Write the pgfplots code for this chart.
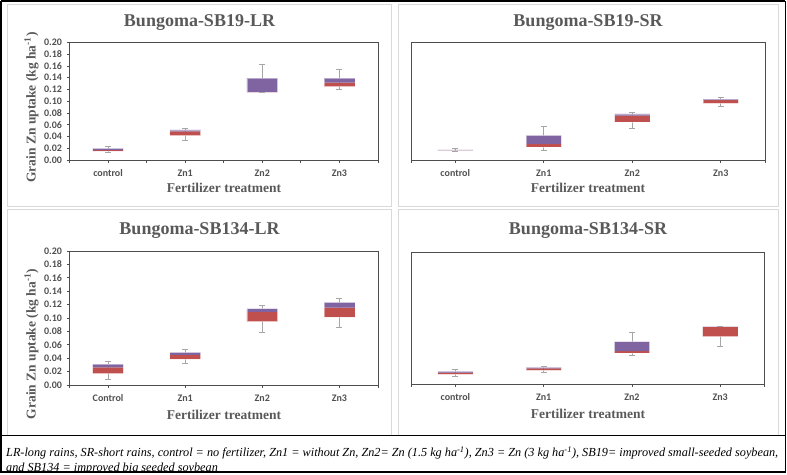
\documentclass[border=0pt]{standalone}
\usepackage{pgfplots}
\pgfplotsset{compat=1.18}
\usepackage{graphicx}
\usepackage{fontspec}
\setmainfont{Liberation Serif}
\newfontfamily\calib{Carlito}

\definecolor{zred}{HTML}{C0504D}
\definecolor{zpurple}{HTML}{8064A2}
\definecolor{whisk}{HTML}{A6A6A6}
\definecolor{axisgray}{HTML}{4D4D4D}
\definecolor{tickgray}{HTML}{505050}
\definecolor{titlegray}{HTML}{595959}
\definecolor{framegray}{HTML}{D9D9D9}

\newcommand\titlefont{\fontsize{18bp}{20bp}\selectfont\bfseries}
\newcommand\labfont{\fontsize{13.5bp}{15bp}\selectfont\bfseries}
\newcommand\capfont{\fontsize{12.3bp}{14bp}\selectfont\itshape}
\newcommand\capone{LR-long rains, SR-short rains, control = no fertilizer, Zn1 = without Zn, Zn2= Zn (1.5 kg ha\textsuperscript{-1}), Zn3 = Zn (3 kg ha\textsuperscript{-1}), SB19= improved small-seeded soybean,}
\newcommand\captwo{and SB134 = improved big seeded soybean}
\newlength\capw

% one box: left edge, centre, right edge, lower whisker, Q1, median, Q3, upper whisker
% whisker line with caps, then Q1-median (red) and median-Q3 (purple) on top
\newcommand\zbox[8]{%
  \addplot[draw=whisk, line width=0.8bp, mark=-, mark size=3bp,
    mark options={solid, draw=whisk, line width=0.8bp}]
    coordinates {(#2,#4) (#2,#8)};
  \addplot[draw=none, fill=zred, mark=none]
    coordinates {(#1,#5) (#3,#5) (#3,#6) (#1,#6) (#1,#5)};
  \addplot[draw=none, fill=zpurple, mark=none]
    coordinates {(#1,#6) (#3,#6) (#3,#7) (#1,#7) (#1,#6)};
  \addplot[draw=white, draw opacity=0.45, line width=0.6bp, mark=none]
    coordinates {(#1,#5) (#3,#5) (#3,#7) (#1,#7) (#1,#5)};
}

\pgfplotsset{
  zpanel/.style={
    scale only axis,
    anchor=south west,
    xmin=0.5, xmax=4.5, ymin=0, ymax=0.2,
    axis line style={draw=axisgray, line width=1bp},
    tick style={draw=axisgray, line width=0.8bp},
    tick align=outside, major tick length=2.5bp,
    xtick pos=bottom, ytick pos=left,
    xtick={1,2,3,4},
    ticklabel style={font=\calib\bfseries\fontsize{10bp}{12bp}\selectfont, text=tickgray},
    xticklabel style={yshift=-3.5bp},
    yticklabel style={xshift=-1.5bp, /pgf/number format/.cd, fixed, fixed zerofill, precision=2, assume math mode=true},
  },
  zleft/.style={zpanel, ytick={0,0.02,0.04,0.06,0.08,0.10,0.12,0.14,0.16,0.18,0.20}},
  zright/.style={zpanel, ytick=\empty},
}

\begin{document}
\settowidth\capw{\capfont\capone}%
\pgfmathsetmacro\sx{775.0/\capw}%
\begin{tikzpicture}
\useasboundingbox (0,0) rectangle (787bp,-475bp);

% panel frames
\draw[framegray, line width=1bp] (7.3bp,-4bp) rectangle (391.7bp,-206.7bp);
\draw[framegray, line width=1bp] (398bp,-4bp) rectangle (778bp,-206.7bp);
\draw[framegray, line width=1bp] (7.3bp,-209.3bp) rectangle (391.7bp,-435bp);
\draw[framegray, line width=1bp] (398bp,-209.3bp) rectangle (778bp,-435bp);

% Bungoma-SB19-LR
\begin{axis}[zleft, at={(69.5bp,-160bp)}, width=308.5bp, height=117.5bp,
  xticklabels={control,Zn1,Zn2,Zn3},
  extra x ticks={0.5,1.5,2.5,3.5,4.5}, extra x tick labels={}]
  \zbox{0.8}{1}{1.2}{0.0136}{0.0153}{0.0170}{0.0199}{0.0227}
  \zbox{1.8}{2}{2.2}{0.0335}{0.0415}{0.0489}{0.0511}{0.0540}
  \zbox{2.8}{3}{3.2}{0.1148}{0.1153}{0.1156}{0.1392}{0.1630}
  \zbox{3.8}{4}{4.2}{0.1205}{0.1250}{0.1318}{0.1392}{0.1545}
\end{axis}

% Bungoma-SB19-SR
\begin{axis}[zright, at={(411bp,-160.3bp)}, width=354bp, height=117.6bp,
  xticklabels={control,Zn1,Zn2,Zn3},
  extra x ticks={0.5,4.5}, extra x tick labels={}]
  \zbox{0.8}{1}{1.2}{0.0155}{0.0163}{0.0170}{0.0178}{0.0195}
  \zbox{1.8}{2}{2.2}{0.0176}{0.0227}{0.0278}{0.0425}{0.0580}
  \zbox{2.8}{3}{3.2}{0.0544}{0.0652}{0.0759}{0.0788}{0.0816}
  \zbox{3.8}{4}{4.2}{0.0912}{0.0969}{0.1025}{0.1042}{0.1065}
\end{axis}

% Bungoma-SB134-LR
\begin{axis}[zleft, at={(69.5bp,-385bp)}, width=308.5bp, height=134bp,
  xticklabels={Control,Zn1,Zn2,Zn3},
  extra x ticks={0.5,4.5}, extra x tick labels={}]
  \zbox{0.8}{1}{1.2}{0.0080}{0.0169}{0.0264}{0.0313}{0.0358}
  \zbox{1.8}{2}{2.2}{0.0318}{0.0388}{0.0448}{0.0488}{0.0527}
  \zbox{2.8}{3}{3.2}{0.0781}{0.0945}{0.1090}{0.1139}{0.1189}
  \zbox{3.8}{4}{4.2}{0.0856}{0.1015}{0.1154}{0.1234}{0.1289}
\end{axis}

% Bungoma-SB134-SR
\begin{axis}[zright, at={(411.3bp,-384bp)}, width=353bp, height=131.7bp,
  xticklabels={control,Zn1,Zn2,Zn3},
  extra x ticks={0.5,4.5}, extra x tick labels={}]
  \zbox{0.8}{1}{1.2}{0.0122}{0.0147}{0.0172}{0.0192}{0.0223}
  \zbox{1.8}{2}{2.2}{0.0182}{0.0208}{0.0238}{0.0253}{0.0273}
  \zbox{2.8}{3}{3.2}{0.0435}{0.0471}{0.0501}{0.0643}{0.0785}
  \zbox{3.8}{4}{4.2}{0.0567}{0.0719}{0.0866}{0.0871}{0.0875}
\end{axis}

% titles
\node[anchor=base, font=\titlefont, text=titlegray] at (199.5bp,-26.7bp) {Bungoma-SB19-LR};
\node[anchor=base, font=\titlefont, text=titlegray] at (588bp,-26.7bp) {Bungoma-SB19-SR};
\node[anchor=base, font=\titlefont, text=titlegray] at (199.5bp,-234.3bp) {Bungoma-SB134-LR};
\node[anchor=base, font=\titlefont, text=titlegray] at (588bp,-234.3bp) {Bungoma-SB134-SR};

% axis labels
\node[anchor=base, font=\labfont, text=titlegray] at (224bp,-192.3bp) {Fertilizer treatment};
\node[anchor=base, font=\labfont, text=titlegray] at (588bp,-192.3bp) {Fertilizer treatment};
\node[anchor=base, font=\labfont, text=titlegray] at (224bp,-419bp) {Fertilizer treatment};
\node[anchor=base, font=\labfont, text=titlegray] at (588bp,-418.3bp) {Fertilizer treatment};
\node[rotate=90, font=\labfont, text=titlegray] at (31.5bp,-107.5bp) {Grain Zn uptake (kg ha\textsuperscript{-1})};
\node[rotate=90, font=\labfont, text=titlegray] at (31.5bp,-344bp) {Grain Zn uptake (kg ha\textsuperscript{-1})};

% footnote, its second line cut by the lower edge of the box
\begin{scope}
\clip (0,-436bp) rectangle (787bp,-470.5bp);
\node[anchor=base west, inner sep=0pt] at (6bp,-456.5bp) {\scalebox{\sx}[1]{\capfont\capone}};
\node[anchor=base west, inner sep=0pt] at (6bp,-471.5bp) {\scalebox{\sx}[1]{\capfont\captwo}};
\end{scope}

% outer frame
\draw[black, line width=1.3bp] (1bp,-1bp) -- (1bp,-472.5bp);
\draw[black, line width=1.3bp] (785.3bp,-1bp) -- (785.3bp,-472.5bp);
\draw[black, line width=1.3bp] (1bp,-1bp) -- (785.3bp,-1bp);
\draw[black, line width=2bp] (0bp,-472bp) -- (786.3bp,-472bp);
\draw[black, line width=1.3bp] (1bp,-435.8bp) -- (785.3bp,-435.8bp);
\end{tikzpicture}
\end{document}
